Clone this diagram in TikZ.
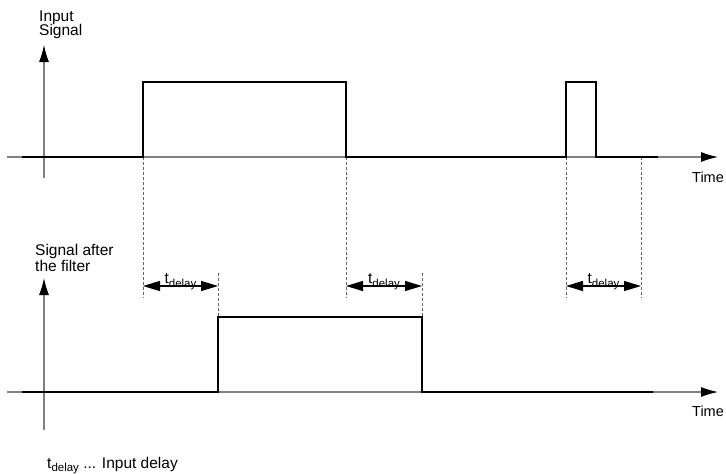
\documentclass[tikz,border=0pt]{standalone}
\usepackage{fontspec}
\setmainfont{Liberation Sans}
\usetikzlibrary{arrows.meta,calc}
\begin{document}
\begin{tikzpicture}[x=1pt,y=-1pt,
  axis/.style={draw=black!50,line width=1.1pt,-{Latex[length=17pt,width=10pt,black]}},
  sig/.style={draw=black,line width=1.9pt,line join=miter},
  guide/.style={draw=black!60,line width=0.9pt,dash pattern=on 3pt off 2pt},
  delay/.style={draw=black,line width=1.2pt,{Triangle[length=17pt,width=10pt]}-{Triangle[length=17pt,width=10pt]}},
  lbl/.style={inner sep=0pt,font=\fontsize{15.5}{15.5}\selectfont},
  tlbl/.style={inner sep=0pt,font=\fontsize{14.5}{14.5}\selectfont}]
\useasboundingbox (0,0) rectangle (726,474);
% coordinates
\coordinate (ta0) at (7,157);   \coordinate (ta1) at (718,157);
\coordinate (tv0) at (44,178);  \coordinate (tv1) at (44,45);
\coordinate (ba0) at (7,392);   \coordinate (ba1) at (718,392);
\coordinate (bv0) at (44,430);  \coordinate (bv1) at (44,278);
% axes
\draw[axis] (ta0) -- (ta1);
\draw[axis] (tv0) -- (tv1);
\draw[axis] (ba0) -- (ba1);
\draw[axis] (bv0) -- (bv1);
% guides
\coordinate (g1a) at (143,157); \coordinate (g1b) at (143,298);
\coordinate (g2a) at (218,273); \coordinate (g2b) at (218,392);
\coordinate (g3a) at (346,157); \coordinate (g3b) at (346,298);
\coordinate (g4a) at (422,273); \coordinate (g4b) at (422,392);
\coordinate (g5a) at (566,157); \coordinate (g5b) at (566,298);
\coordinate (g6a) at (641,157); \coordinate (g6b) at (641,298);
\foreach \g in {1,...,6} \draw[guide] (g\g a) -- (g\g b);
% input signal
\draw[sig] (22,157) -- (143,157) -- (143,82) -- (346,82) -- (346,157)
  -- (566,157) -- (566,82) -- (596,82) -- (596,157) -- (658,157);
% output signal
\draw[sig] (22,392) -- (218,392) -- (218,317) -- (422,317) -- (422,392) -- (653,392);
\draw[draw=black,line width=2.7pt] (488,392) -- (535,392);
% delay arrows
\coordinate (d1a) at (143,286); \coordinate (d1b) at (218,286);
\coordinate (d2a) at (346,286); \coordinate (d2b) at (422,286);
\coordinate (d3a) at (566,286); \coordinate (d3b) at (641,286);
\foreach \d in {1,2,3} {
  \draw[delay] (d\d a) -- (d\d b);
  \node[lbl,anchor=base] (dl\d) at ($ (d\d a)!0.5!(d\d b) + (0,-3) $) {t\raisebox{-4pt}{\fontsize{11.5}{11.5}\selectfont delay}};
}
% labels
\node[lbl,anchor=base west] (in1) at (39,21) {Input};
\node[lbl,anchor=base west] (in2) at (39,35.5) {Signal};
\node[tlbl,anchor=base west] (time1) at (692,182) {Time};
\node[lbl,anchor=base west] (af1) at (35,255) {Signal after};
\node[lbl,anchor=base west] (af2) at (35,271) {the filter};
\node[tlbl,anchor=base west] (time2) at (692,416) {Time};
\node[lbl,anchor=base west] (leg) at (47,468) {t\raisebox{-3pt}{\fontsize{11.5}{11.5}\selectfont delay} ... Input delay};
\end{tikzpicture}
\end{document}
